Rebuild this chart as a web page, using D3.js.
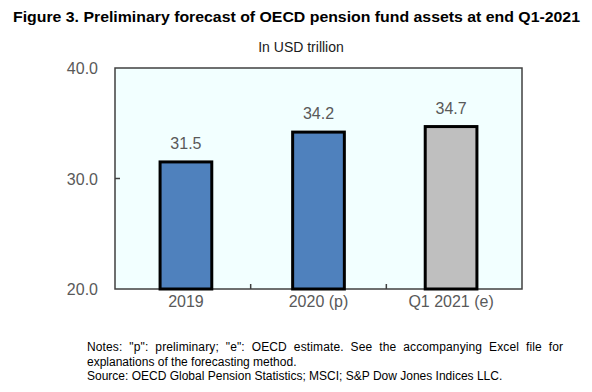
<!DOCTYPE html>
<html>
<head>
<meta charset="utf-8">
<script src="https://cdn.jsdelivr.net/npm/d3@7"></script>
<style>
body { margin: 0; background: #ffffff; }
</style>
</head>
<body>
<div class="canvas"></div>
<script>
var categories = ["2019", "2020 (p)", "Q1 2021 (e)"];
var values = [31.5, 34.2, 34.7];
var barColors = ["#4f81bd", "#4f81bd", "#bfbfbf"];
var yTicks = [20, 30, 40];
var noteLines = [
	"Notes:  \"p\":  preliminary;  \"e\":  OECD  estimate.  See  the  accompanying  Excel  file  for",
	"explanations of the forecasting method.",
	"Source: OECD Global Pension Statistics; MSCI; S&P Dow Jones Indices LLC."
];

var fig_width = 592;
var fig_height = 392;
var plot = {left: 115, top: 68, right: 522, bottom: 289};

var svg = d3.select("body div.canvas").append("svg")
	.attr("width", fig_width)
	.attr("height", fig_height)
	.style("font-family", "Liberation Sans, Arial, sans-serif");

svg.append("text")
	.attr("x", 13).attr("y", 22)
	.attr("textLength", 567).attr("lengthAdjust", "spacingAndGlyphs")
	.style("font-size", "15.5px").style("font-weight", "bold").style("fill", "#000")
	.text("Figure 3. Preliminary forecast of OECD pension fund assets at end Q1-2021");

svg.append("text")
	.attr("x", 301).attr("y", 52)
	.attr("text-anchor", "middle")
	.style("font-size", "14px").style("fill", "#1a1a1a")
	.text("In USD trillion");

var x = d3.scaleBand().domain(categories).range([plot.left, plot.right]).paddingInner(0.61).paddingOuter(0.34);
var y = d3.scaleLinear().domain([20, 40]).range([plot.bottom, plot.top]);

// plot background
svg.append("rect")
	.attr("x", plot.left).attr("y", plot.top)
	.attr("width", plot.right - plot.left).attr("height", plot.bottom - plot.top)
	.attr("fill", "#f2ffff")
	.attr("stroke", "#404040").attr("stroke-width", 1.5);

// y axis labels and ticks
yTicks.forEach(function(t) {
	svg.append("text")
		.attr("x", 98).attr("y", y(t) + 6)
		.attr("text-anchor", "end")
		.style("font-size", "16px").style("fill", "#595959")
		.text(t.toFixed(1));
	if (t > 20 && t < 40) {
		svg.append("line")
			.attr("x1", plot.left).attr("x2", plot.left + 5)
			.attr("y1", y(t)).attr("y2", y(t))
			.attr("stroke", "#404040").attr("stroke-width", 1.5);
	}
});

// category boundary ticks
for (var i = 1; i < categories.length; i++) {
	var bx = plot.left + (plot.right - plot.left) * i / categories.length;
	svg.append("line")
		.attr("x1", bx).attr("x2", bx)
		.attr("y1", plot.bottom).attr("y2", plot.bottom - 5)
		.attr("stroke", "#404040").attr("stroke-width", 1.5);
}

svg.selectAll("rect.bar")
	.data(values)
	.enter().append("rect")
	.attr("class", "bar")
	.attr("x", function(d, i) { return x(categories[i]); })
	.attr("y", function(d) { return y(d); })
	.attr("width", x.bandwidth())
	.attr("height", function(d) { return plot.bottom - y(d); })
	.attr("fill", function(d, i) { return barColors[i]; })
	.attr("stroke", "#000").attr("stroke-width", 3);

svg.selectAll("text.val")
	.data(values)
	.enter().append("text")
	.attr("class", "val")
	.attr("x", function(d, i) { return x(categories[i]) + x.bandwidth() / 2; })
	.attr("y", function(d) { return y(d) - 13; })
	.attr("text-anchor", "middle")
	.style("font-size", "16px").style("fill", "#595959")
	.text(function(d) { return d.toFixed(1); });

svg.selectAll("text.cat")
	.data(categories)
	.enter().append("text")
	.attr("class", "cat")
	.attr("x", function(d) { return x(d) + x.bandwidth() / 2; })
	.attr("y", plot.bottom + 18)
	.attr("text-anchor", "middle")
	.style("font-size", "16px").style("fill", "#595959")
	.text(function(d) { return d; });

noteLines.forEach(function(l, i) {
	var t = svg.append("text")
		.attr("x", 87).attr("y", 351 + i * 14.5)
		.style("font-size", "12px").style("fill", "#000")
		.style("white-space", "pre")
		.text(l);
	if (i == 0) t.attr("textLength", 476).attr("lengthAdjust", "spacing");
});
</script>
</body>
</html>
